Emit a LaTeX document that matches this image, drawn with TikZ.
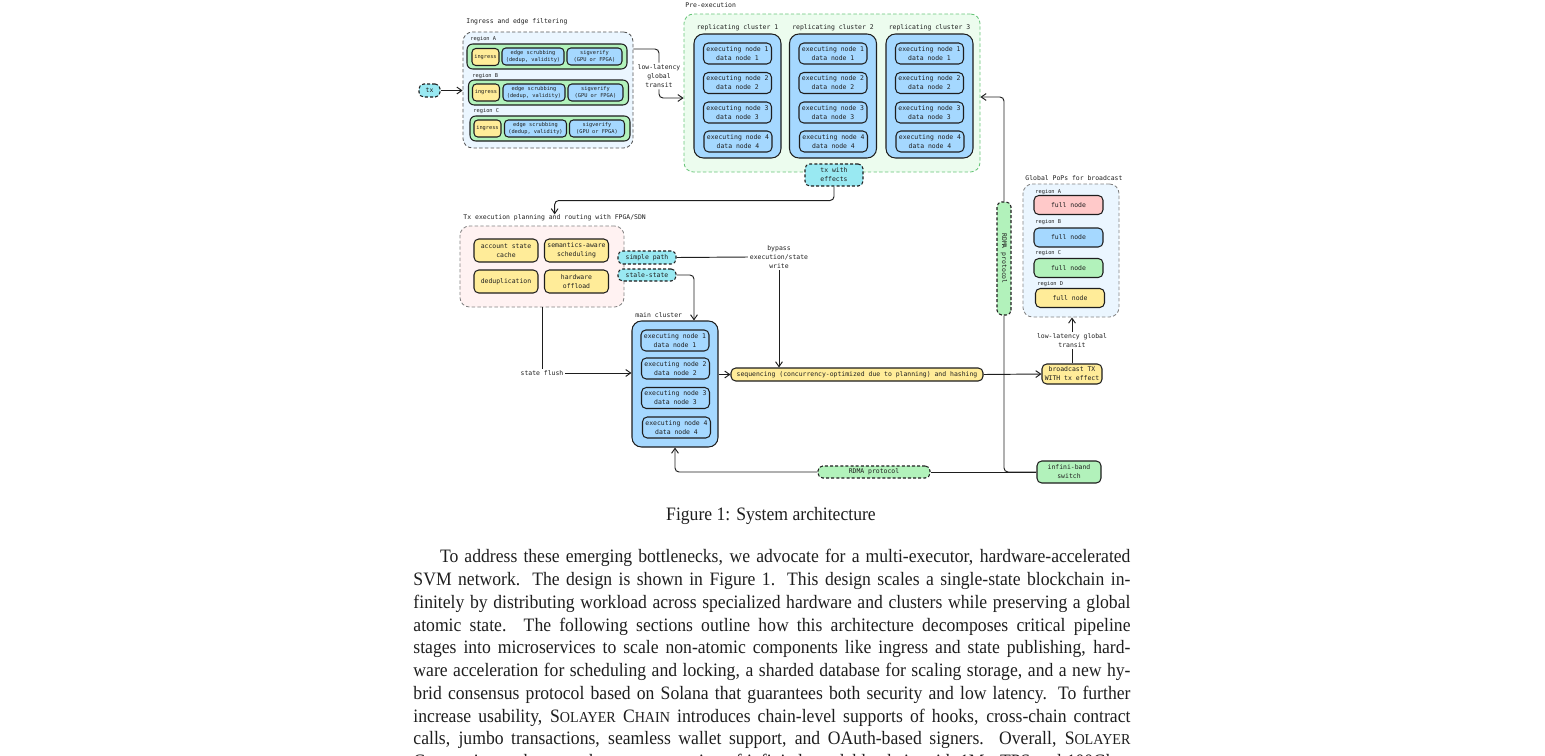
\documentclass[tikz,border=0pt]{standalone}
\usepackage{fontspec}
\setmainfont{Liberation Serif}[FakeStretch=0.93]
\newfontfamily\sketchfont{DejaVu Sans Mono}
\usepackage{tikz}
\usetikzlibrary{arrows.meta}

\newlength\pxu
\setlength\pxu{0.5274pt}

\definecolor{ink}{HTML}{1E1E1E}
\definecolor{exblue}{HTML}{A5D8FF}
\definecolor{exyellow}{HTML}{FFEC99}
\definecolor{exgreen}{HTML}{B2F2BB}
\definecolor{exred}{HTML}{FFC9C9}
\definecolor{excyan}{HTML}{99E9F2}
\definecolor{exgreenline}{HTML}{69C57A}

\newcommand\bigtxt{\sketchfont\fontsize{3.4}{4.7}\selectfont}
\newcommand\smalltxt{\sketchfont\fontsize{2.8}{3.9}\selectfont}
\newcommand\solayer{S{\footnotesize OLAYER}}
\newcommand\chainsc{C{\footnotesize HAIN}}

\tikzset{
  box/.style={draw=ink, line width=0.55pt, rounded corners=2.5pt, inner sep=0pt, align=center, text=ink, font=\bigtxt},
  tag/.style={box, fill=excyan, dash pattern=on 1.6pt off 1.1pt},
  group/.style={line width=0.45pt, dash pattern=on 1.8pt off 1.2pt, rounded corners=5pt, inner sep=0pt},
  lbl/.style={font=\bigtxt, text=ink, inner sep=0.8pt, align=center},
  smlbl/.style={font=\smalltxt, text=ink, inner sep=0pt, anchor=west},
  rowbar/.style={box, fill=exgreen, rounded corners=3pt, minimum width=160\pxu, minimum height=25\pxu},
  rowcell/.style={box, font=\smalltxt, rounded corners=2pt, minimum height=17\pxu},
  cluster/.style={box, fill=exblue, rounded corners=5pt, minimum width=87\pxu, minimum height=124\pxu},
  execbox/.style={box, fill=exblue, minimum width=68\pxu, minimum height=21\pxu},
  planbox/.style={box, fill=exyellow, minimum width=64\pxu, minimum height=23\pxu},
  fullbox/.style={box, minimum width=69\pxu, minimum height=19\pxu},
}

\begin{document}
\begin{tikzpicture}[x=\pxu, y=-\pxu, line width=0.5pt, color=ink, >={Straight Barb[length=2.6pt,width=3.6pt]}]
    \useasboundingbox (0,0) rectangle (1545,756);
    \clip (0,0) rectangle (1545,756);

    % ingress and edge filtering
    \node[tag, minimum width=21\pxu, minimum height=13\pxu] (tx) at (429.5,90.5) {tx};
    \node[group, draw=ink!75, fill=exblue!22, minimum width=170\pxu, minimum height=116\pxu] (ingress) at (548,90) {};
    \node[lbl, anchor=west, inner sep=0pt] (ingresslbl) at (466,22) {Ingress and edge filtering};

    \node[smlbl] (rega) at (470,39) {region A};
    \node[rowbar] (rowa) at (547,56.5) {};
    \node[rowcell, fill=exyellow, minimum width=27\pxu] (ina) at (485.5,57) {ingress};
    \node[rowcell, fill=exblue, minimum width=62\pxu] (edgea) at (533,56.5) {edge scrubbing\\(dedup, validity)};
    \node[rowcell, fill=exblue, minimum width=55\pxu] (siga) at (594.5,56.5) {sigverify\\(GPU or FPGA)};

    \node[smlbl] (regb) at (472,76) {region B};
    \node[rowbar] (rowb) at (548.5,92.5) {};
    \node[rowcell, fill=exyellow, minimum width=27\pxu] (inb) at (486,92.5) {ingress};
    \node[rowcell, fill=exblue, minimum width=62\pxu] (edgeb) at (534,92.5) {edge scrubbing\\(dedup, validity)};
    \node[rowcell, fill=exblue, minimum width=55\pxu] (sigb) at (595.5,92.5) {sigverify\\(GPU or FPGA)};

    \node[smlbl] (regc) at (473,111.5) {region C};
    \node[rowbar] (rowc) at (550,128.5) {};
    \node[rowcell, fill=exyellow, minimum width=27\pxu] (inc) at (487.5,128.5) {ingress};
    \node[rowcell, fill=exblue, minimum width=62\pxu] (edgec) at (535.5,128.5) {edge scrubbing\\(dedup, validity)};
    \node[rowcell, fill=exblue, minimum width=55\pxu] (sigc) at (597,128.5) {sigverify\\(GPU or FPGA)};

    \node[lbl, fill=white] (transit) at (659,76) {low-latency\\global\\transit};

    % pre-execution
    \node[group, draw=exgreenline, fill=exgreen!25, minimum width=296\pxu, minimum height=158\pxu] (pre) at (832,93) {};
    \node[lbl, anchor=west, inner sep=0pt] (prelbl) at (685,5) {Pre-execution};

    \node[lbl] (rcalbl) at (737.5,28) {replicating cluster 1};
    \node[cluster] (rca) at (737.5,96) {};
    \node[execbox] (rca1) at (737.5,53.5) {executing node 1\\data node 1};
    \node[execbox] (rca2) at (737.5,83) {executing node 2\\data node 2};
    \node[execbox] (rca3) at (737.5,112.5) {executing node 3\\data node 3};
    \node[execbox] (rca4) at (738,141.5) {executing node 4\\data node 4};

    \node[lbl] (rcblbl) at (833,28) {replicating cluster 2};
    \node[cluster] (rcb) at (833,96) {};
    \node[execbox] (rcb1) at (833,53.5) {executing node 1\\data node 1};
    \node[execbox] (rcb2) at (833,83) {executing node 2\\data node 2};
    \node[execbox] (rcb3) at (833,112.5) {executing node 3\\data node 3};
    \node[execbox] (rcb4) at (833.5,141.5) {executing node 4\\data node 4};

    \node[lbl] (rcclbl) at (929.5,28) {replicating cluster 3};
    \node[cluster] (rcc) at (929.5,96) {};
    \node[execbox] (rcc1) at (929.5,53.5) {executing node 1\\data node 1};
    \node[execbox] (rcc2) at (929.5,83) {executing node 2\\data node 2};
    \node[execbox] (rcc3) at (929.5,112.5) {executing node 3\\data node 3};
    \node[execbox] (rcc4) at (930,141.5) {executing node 4\\data node 4};

    \node[tag, minimum width=58\pxu, minimum height=22\pxu] (txfx) at (834,175) {tx with\\effects};

    % planning and routing
    \node[group, draw=ink!55, fill=exred!25, minimum width=164\pxu, minimum height=81\pxu] (plan) at (542,266.5) {};
    \node[lbl, anchor=west, inner sep=0pt] (planlbl) at (463,218) {Tx execution planning and routing with FPGA/SDN};
    \node[planbox] (acc) at (506,250.5) {account state\\cache};
    \node[planbox] (sem) at (576.5,250.5) {semantics-aware\\scheduling};
    \node[planbox] (dedup) at (506,281.5) {deduplication};
    \node[planbox] (hw) at (576.5,281.5) {hardware\\offload};

    \node[tag, minimum width=58\pxu, minimum height=13\pxu] (simple) at (647,257.5) {simple path};
    \node[tag, minimum width=58\pxu, minimum height=12\pxu] (stale) at (647,275) {stale-state};
    \node[lbl] (bypass) at (779,257) {bypass\\execution/state\\write};

    % main cluster
    \node[lbl, anchor=west, inner sep=0pt] (mainlbl) at (635,315) {main cluster};
    \node[cluster, minimum width=86\pxu, minimum height=126\pxu] (main) at (675,384) {};
    \node[execbox] (m1) at (675,340.5) {executing node 1\\data node 1};
    \node[execbox] (m2) at (675.5,368.5) {executing node 2\\data node 2};
    \node[execbox] (m3) at (675.5,398) {executing node 3\\data node 3};
    \node[execbox] (m4) at (676.5,427.5) {executing node 4\\data node 4};

    \node[lbl] (flush) at (542,373) {state flush};
    \node[box, fill=exyellow, minimum width=252\pxu, minimum height=13\pxu] (seq) at (857,374.5) {sequencing (concurrency-optimized due to planning) and hashing};
    \node[box, fill=exyellow, minimum width=60\pxu, minimum height=20\pxu] (bcast) at (1072,374) {broadcast TX\\WITH tx effect};
    \node[lbl] (lowlat) at (1072,340.5) {low-latency global\\transit};

    % global PoPs
    \node[group, draw=ink!55, fill=exblue!22, minimum width=96\pxu, minimum height=133\pxu] (pops) at (1071,250.5) {};
    \node[lbl, anchor=west, inner sep=0pt] (popslbl) at (1025,178) {Global PoPs for broadcast};
    \node[smlbl] (pa) at (1035,192) {region A};
    \node[fullbox, fill=exred] (fa) at (1068.5,205) {full node};
    \node[smlbl] (pb) at (1035,222) {region B};
    \node[fullbox, fill=exblue] (fb) at (1068.5,237.5) {full node};
    \node[smlbl] (pc) at (1035,253) {region C};
    \node[fullbox, fill=exgreen] (fc) at (1068.5,268) {full node};
    \node[smlbl] (pd) at (1037,284) {region D};
    \node[fullbox, fill=exyellow] (fd) at (1070,298) {full node};

    % rdma
    \node[box, fill=exgreen, minimum width=64\pxu, minimum height=22\pxu] (switch) at (1069,472) {infini-band\\switch};
    \node[tag, fill=exgreen, minimum width=112\pxu, minimum height=12\pxu] (rdmah) at (874,472) {RDMA protocol};
    \node[tag, fill=exgreen, rotate=-90, minimum width=113\pxu, minimum height=14\pxu] (rdmav) at (1004,258.5) {RDMA protocol};

    \draw[->] (tx) -- (ingress.west |- tx);
    \draw[rounded corners=4\pxu] ([yshift=41\pxu]ingress.east) -| (transit.north);
    \draw[->, rounded corners=4\pxu] (transit.south) |- ([yshift=-5\pxu]pre.west);
    \draw[->, rounded corners=4\pxu] (txfx.south) -- ++(0,14) -| (planlbl.north);
    \draw (simple.east) -- (bypass.west);
    \draw[->] (bypass.south) -- (seq.north -| bypass.south);
    \draw[->, rounded corners=4\pxu] (stale.east) -| ([xshift=19\pxu]main.north);
    \draw (plan.south -| flush.north) -- (flush.north);
    \draw[->] (flush.east) -- (main.west |- flush.east);
    \draw[->] (main.east |- seq.west) -- (seq.west);
    \draw[->] (seq.east) -- (bcast.west);
    \draw (bcast.north) -- (lowlat.south);
    \draw[->] (lowlat.north) -- (pops.south -| lowlat.north);
    \draw (switch.west) -- (rdmah.east);
    \draw[->, rounded corners=4\pxu] (rdmah.west) -| (main.south);
    \draw[rounded corners=4\pxu] (switch.west) -| (rdmav.east);
    \draw[->, rounded corners=4\pxu] (rdmav.west) |- ([yshift=-4\pxu]pre.east);

    % caption and text
    \node[font=\fontsize{10}{12}\selectfont] (caption) at (771,516) {Figure 1: System architecture};
    \node[anchor=north west, text width=717\pxu, align=justify, inner sep=0pt, font=\fontsize{10}{12}\selectfont] (body) at (413,549) {\tolerance=9999\hyphenpenalty=10000\emergencystretch=10pt
        \hspace*{14pt}To address these emerging bottlenecks, we advocate for a multi-executor, hardware-accelerated\linebreak
        SVM network. The design is shown in Figure 1. This design scales a single-state blockchain in-\linebreak
        finitely by distributing workload across specialized hardware and clusters while preserving a global\linebreak
        atomic state. The following sections outline how this architecture decomposes critical pipeline\linebreak
        stages into microservices to scale non-atomic components like ingress and state publishing, hard-\linebreak
        ware acceleration for scheduling and locking, a sharded database for scaling storage, and a new hy-\linebreak
        brid consensus protocol based on Solana that guarantees both security and low latency. To further\linebreak
        increase usability, \solayer{} \chainsc{} introduces chain-level supports of hooks, cross-chain contract\linebreak
        calls, jumbo transactions, seamless wallet support, and OAuth-based signers. Overall, \solayer\linebreak
        \chainsc{} aims to become the next generation of infinitely scalable chain with 1M+ TPS and 100Gbps bandwidth.};
\end{tikzpicture}
\end{document}
